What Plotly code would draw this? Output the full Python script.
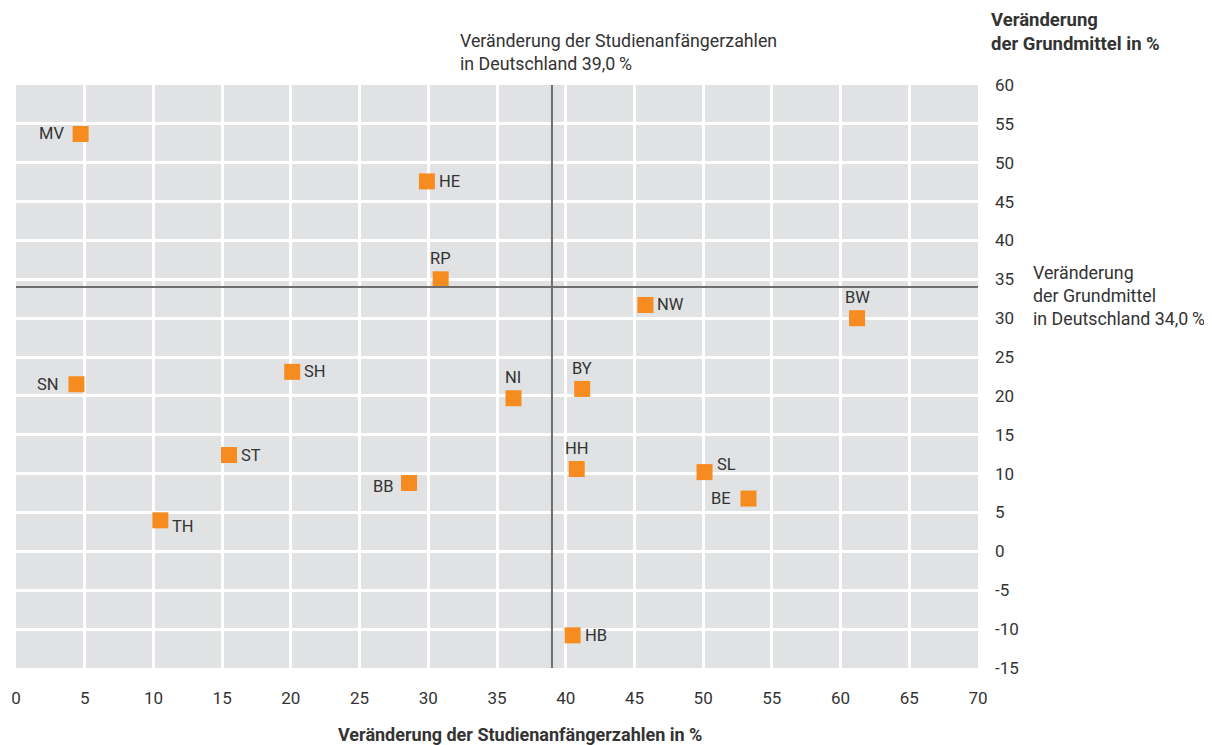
import plotly.graph_objects as go

states = ["MV", "HE", "RP", "NW", "BW", "SN", "SH", "NI", "BY", "ST", "HH", "SL", "BB", "BE", "TH", "HB"]
studienanfaenger = [4.7, 29.9, 30.9, 45.8, 61.2, 4.4, 20.1, 36.2, 41.2, 15.5, 40.8, 50.1, 28.6, 53.3, 10.5, 40.5]
grundmittel = [53.7, 47.6, 35.0, 31.7, 30.0, 21.5, 23.1, 19.7, 20.9, 12.4, 10.6, 10.2, 8.8, 6.8, 4.0, -10.8]
label_pos = ["left", "right", "top", "right", "top", "left", "right", "top", "top", "right", "top", "right-up", "left-down", "left", "right-down", "right"]

de_studienanfaenger = 39.0
de_grundmittel = 34.0

x_ticks = list(range(0, 75, 5))
y_ticks = list(range(-15, 65, 5))

FONT = "Roboto"
TXT = "#333333"
ORANGE = "#F68B1F"

FW, FH = 1204, 737
ML, MR, MT, MB = 8, 234, 77, 77

fig = go.Figure()
fig.add_trace(go.Scatter(
    x=studienanfaenger, y=grundmittel, mode="markers",
    marker=dict(symbol="square", size=16, color=ORANGE, line=dict(width=0)),
    hoverinfo="text", text=states, showlegend=False,
))

offsets = {
    "left": dict(xanchor="right", yanchor="middle", xshift=-15, yshift=0),
    "right": dict(xanchor="left", yanchor="middle", xshift=10, yshift=0),
    "top": dict(xanchor="center", yanchor="bottom", xshift=0, yshift=9),
    "right-up": dict(xanchor="left", yanchor="middle", xshift=10, yshift=8),
    "left-down": dict(xanchor="right", yanchor="middle", xshift=-13, yshift=-4),
    "right-down": dict(xanchor="left", yanchor="middle", xshift=10, yshift=-6),
}
for s, x, y, p in zip(states, studienanfaenger, grundmittel, label_pos):
    fig.add_annotation(x=x, y=y, text=s, showarrow=False,
                       font=dict(family=FONT, size=16.5, color=TXT), **offsets[p])

fig.add_shape(type="line", x0=de_studienanfaenger, x1=de_studienanfaenger, y0=0, y1=1,
              xref="x", yref="paper", line=dict(color="#6e6e6e", width=2), layer="above")
fig.add_shape(type="line", x0=0, x1=1, y0=de_grundmittel, y1=de_grundmittel,
              xref="paper", yref="y", line=dict(color="#6e6e6e", width=2), layer="above")

fig.update_layout(
    width=FW, height=FH,
    margin=dict(l=ML, r=MR, t=MT, b=MB, autoexpand=False),
    paper_bgcolor="white", plot_bgcolor="#E1E2E4",
    font=dict(family=FONT, size=17, color=TXT),
    xaxis=dict(range=[0, 70], tickvals=x_ticks, ticktext=[str(v) for v in x_ticks],
               showgrid=True, gridcolor="white", gridwidth=3, zeroline=False,
               showline=False, ticks="", ticklabelstandoff=18, automargin=False,
               tickfont=dict(family=FONT, size=17, color=TXT)),
    yaxis=dict(range=[-15, 60], tickvals=y_ticks, ticktext=[str(v) for v in y_ticks],
               side="right", showgrid=True, gridcolor="white", gridwidth=3, zeroline=False,
               showline=False, ticks="", ticklabelstandoff=16, automargin=False,
               tickfont=dict(family=FONT, size=17, color=TXT)),
)

# helper: screen pixel -> paper coords (page has an 8px body offset)
W, H = FW - ML - MR, FH - MT - MB
def px(xp):
    return (xp - 8 - ML) / W
def py(yp):
    return (8 + FH - MB - yp) / H

fig.add_annotation(x=px(336), y=py(722), xref="paper", yref="paper", xanchor="left", yanchor="top",
                   align="left", showarrow=False,
                   text="<b>Veränderung der Studienanfängerzahlen in %</b>",
                   font=dict(family=FONT, size=18, color=TXT))
fig.add_annotation(x=px(458), y=py(28), xref="paper", yref="paper", xanchor="left", yanchor="top",
                   align="left", showarrow=False,
                   text="Veränderung der Studienanfängerzahlen<br>in Deutschland 39,0\u2009%",
                   font=dict(family=FONT, size=17.8, color=TXT))
fig.add_annotation(x=px(989), y=py(7), xref="paper", yref="paper", xanchor="left", yanchor="top",
                   align="left", showarrow=False,
                   text="<b>Veränderung<br>der Grundmittel in %</b>",
                   font=dict(family=FONT, size=18.5, color=TXT))
fig.add_annotation(x=px(1031), y=py(260), xref="paper", yref="paper", xanchor="left", yanchor="top",
                   align="left", showarrow=False,
                   text="Veränderung<br>der Grundmittel<br>in Deutschland 34,0\u2009%",
                   font=dict(family=FONT, size=17.8, color=TXT))

fig.write_html("out.html")
